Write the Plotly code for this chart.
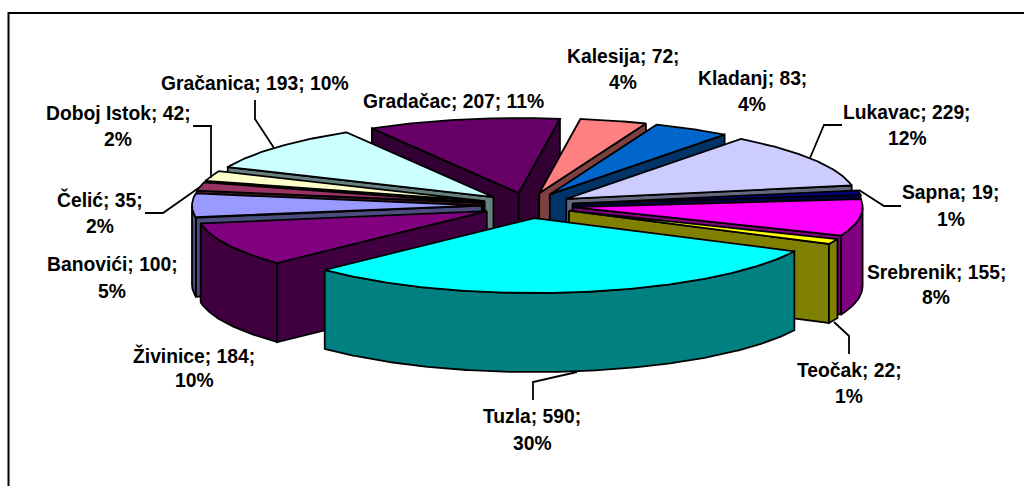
import numpy as np
import plotly.graph_objects as go

names = ["Banovići", "Čelić", "Doboj Istok", "Gračanica", "Gradačac", "Kalesija", "Kladanj",
         "Lukavac", "Sapna", "Srebrenik", "Teočak", "Tuzla", "Živinice"]
values = [100, 35, 42, 193, 207, 72, 83, 229, 19, 155, 22, 590, 184]
percents = [5, 2, 2, 10, 11, 4, 4, 12, 1, 8, 1, 30, 10]
top_colors = ["#9999FF", "#993366", "#FFFFCC", "#CCFFFF", "#660066", "#FF8080", "#0066CC",
              "#CCCCFF", "#000080", "#FF00FF", "#FFFF00", "#00FFFF", "#800080"]
side_colors = ["#4C4C7F", "#4C1933", "#7F7F66", "#667F7F", "#330033", "#7F4040", "#003366",
               "#66667F", "#000040", "#800080", "#808000", "#008080", "#400040"]

# Label placement: (x centre, first line y, second line y or None)
label_pos = [(112, 264, 291), (100, 199, 226), (118, 113, 139), (255, 83, None), (453, 101, None),
             (623, 56, 82), (752, 78, 104), (907, 112, 138), (951, 192, 219), (936, 272, 297),
             (849, 370, 396), (532, 416, 443), (194, 355, 380)]
leaders = [[(255, 100), (255, 119), (274, 148)],
           [(193, 126), (211, 126), (211, 178)],
           [(145, 213), (163, 213), (200, 187)],
           [(842, 125), (824, 125), (810, 158)],
           [(859, 190), (884, 206), (901, 206)],
           [(834, 322), (849, 336), (849, 354)],
           [(577, 372), (533, 382), (533, 400)]]

CX, CY, RX, RY, DEPTH, EX, EY = 527.5, 205.5, 290, 75, 79, 45.5, 12.7
START = 189.4  # clockwise start of the first slice, degrees counter-clockwise from east
LW = 1.8

total = sum(values)
spans = [v / total * 360 for v in values]
a0s = START - np.concatenate([[0], np.cumsum(spans)[:-1]])
a1s = a0s - np.array(spans)


def pt(ax, ay, deg):
    r = np.radians(deg)
    return ax + RX * np.cos(r), ay - RY * np.sin(r)


fig = go.Figure()


def poly(xs, ys, color):
    fig.add_trace(go.Scatter(x=list(xs) + [xs[0]], y=list(ys) + [ys[0]], mode="lines", fill="toself",
                             fillcolor=color, line=dict(color="black", width=LW),
                             hoverinfo="skip", showlegend=False))


mids = (a0s + a1s) / 2
order = sorted(range(len(values)), key=lambda i: -np.sin(np.radians(mids[i])))
for i in order:
    a0, a1, mid = a0s[i], a1s[i], mids[i]
    ax = CX + EX * np.cos(np.radians(mid))
    ay = CY - EY * np.sin(np.radians(mid))
    # radial walls
    for edge, visible in ((a0, np.cos(np.radians(a0)) < 0), (a1, np.cos(np.radians(a1)) > 0)):
        if visible:
            ex, ey = pt(ax, ay, edge)
            poly([ax, ex, ex, ax], [ay, ey, ey + DEPTH, ay + DEPTH], side_colors[i])
    # outer wall (only the part that faces the viewer)
    angs = np.linspace(a1, a0, max(int(abs(a0 - a1)) * 2, 2) + 1)
    angs = angs[np.sin(np.radians(angs)) <= 0]
    if len(angs) > 1:
        px, py = pt(ax, ay, angs)
        poly(list(px) + list(px[::-1]), list(py) + list(py[::-1] + DEPTH), side_colors[i])
    # top face
    angs = np.linspace(a0, a1, max(int(abs(a0 - a1)) * 2, 2) + 1)
    px, py = pt(ax, ay, angs)
    poly([ax] + list(px), [ay] + list(py), top_colors[i])

for seg in leaders:
    fig.add_trace(go.Scatter(x=[p[0] for p in seg], y=[p[1] for p in seg], mode="lines",
                             line=dict(color="black", width=LW), hoverinfo="skip", showlegend=False))

font = dict(family="Liberation Sans", size=19.3, color="black")
for n, v, p, (x, y1, y2) in zip(names, values, percents, label_pos):
    if y2 is None:
        lines = [(f"<b>{n}; {v}; {p}%</b>", y1)]
    else:
        lines = [(f"<b>{n}; {v};</b>", y1), (f"<b>{p}%</b>", y2)]
    for t, y in lines:
        fig.add_annotation(x=x, y=y, text=t, showarrow=False, font=font, xanchor="center", yanchor="middle")

# Only the top and left edges of the frame are inside the picture
fig.add_shape(type="rect", x0=8.5, y0=13, x1=1040, y1=500, line=dict(color="black", width=2))

fig.update_layout(width=1024, height=486, margin=dict(l=0, r=0, t=0, b=0),
                  paper_bgcolor="white", plot_bgcolor="white",
                  xaxis=dict(range=[0, 1024], visible=False, fixedrange=True),
                  yaxis=dict(range=[486, 0], visible=False, fixedrange=True))
fig.write_html("out.html", config={"displayModeBar": False},
               post_script="document.body.style.margin='0';document.body.style.overflow='hidden';")
